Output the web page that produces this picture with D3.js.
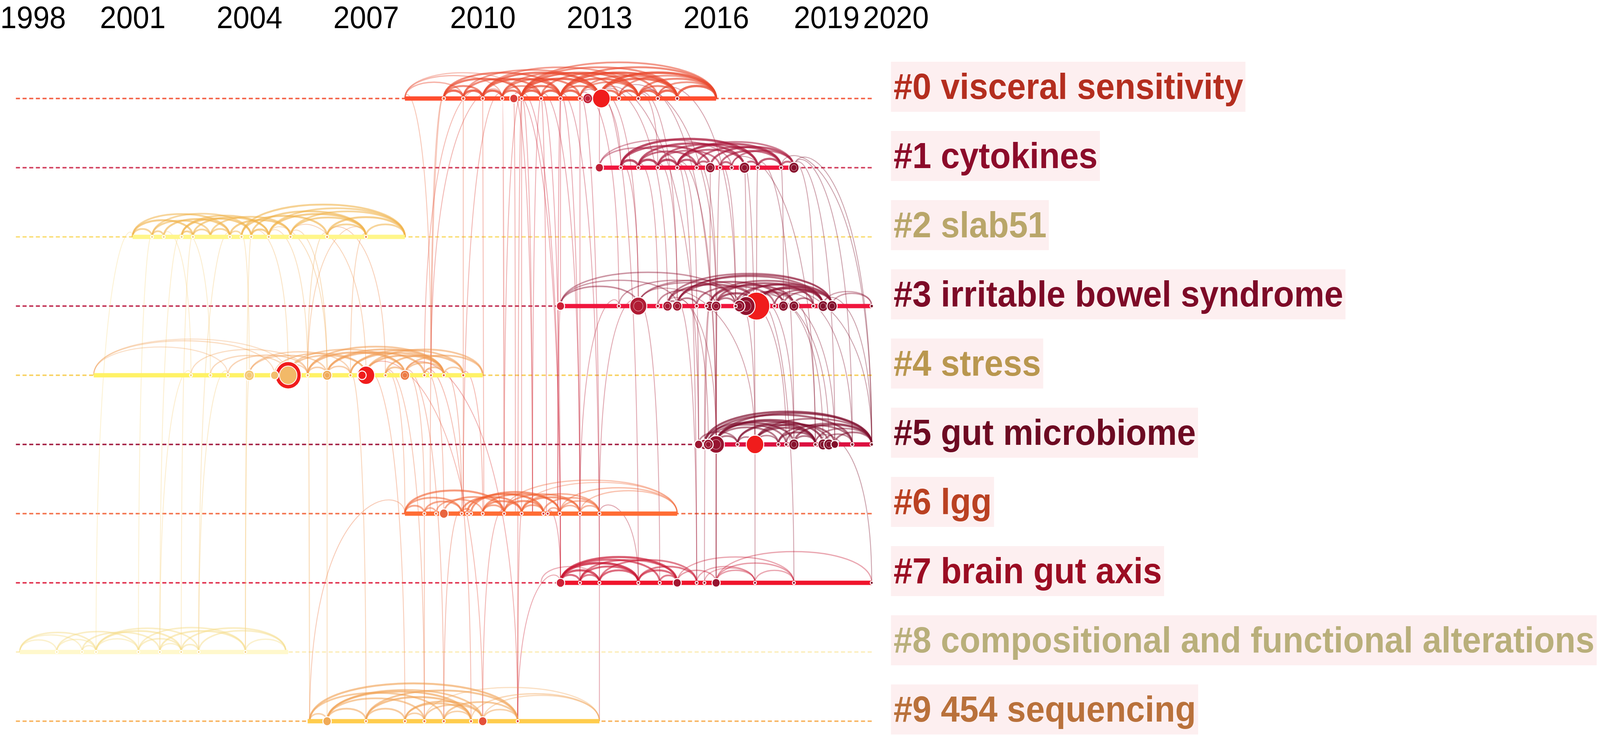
<!DOCTYPE html>
<html lang="en">
<head>
<meta charset="utf-8">
<script src="https://d3js.org/d3.v7.min.js"></script>
<title>Timeline view</title>
<style>
  html, body { margin: 0; padding: 0; background: #fff; overflow: hidden; }
  #chart svg { display: block; width: 100vw; height: 100vh; }
  text { font-family: "Liberation Sans", Arial, sans-serif; }
</style>
</head>
<body>
<div id="chart"></div>
<script>
// ---- data ----
const yearTicks = [1998, 2001, 2004, 2007, 2010, 2013, 2016, 2019, 2020];

const clusterIds = [0, 1, 2, 3, 4, 5, 6, 7, 8, 9];
const clusterNames = [
  "#0 visceral sensitivity", "#1 cytokines", "#2 slab51", "#3 irritable bowel syndrome",
  "#4 stress", "#5 gut microbiome", "#6 lgg", "#7 brain gut axis",
  "#8 compositional and functional alterations", "#9 454 sequencing"
];
// active period of each cluster
const clusterSpans = [
  [2008, 2016], [2013, 2018], [2001, 2008], [2012, 2020], [2000, 2010],
  [2015.5, 2020], [2008, 2015], [2012, 2020], [1998.1, 2005], [2005.5, 2013]
];

// [cluster, year, citations, burst]
const nodeData = [
  [0,2009,2,0],[0,2009.5,2,0],[0,2010,2,0],[0,2010.5,2,0],[0,2011,2,0],[0,2011.5,2,0],[0,2012,2,0],
  [0,2012.5,2,0],[0,2013.5,2,0],[0,2014,2,0],[0,2014.5,2,0],[0,2015,2,0],
  [0,2010.8,12,0],[0,2012.7,17,0],[0,2013.05,56,1],

  [1,2013.55,2,0],[1,2014,2,0],[1,2014.5,2,0],[1,2015,2,0],[1,2015.5,2,0],[1,2016.1,2,0],[1,2016.4,2,0],
  [1,2017.07,2,0],[1,2017.67,2,0],
  [1,2013,12,0],[1,2015.85,17,0],[1,2016.73,20,0],[1,2018,19,0],

  [2,2001.5,1.5,0],[2,2001.8,1.5,0],[2,2002.26,1.5,0],[2,2002.55,1.5,0],[2,2003.5,1.5,0],[2,2003.8,1.5,0],
  [2,2004.05,1.5,0],[2,2004.5,1.5,0],[2,2005.06,1.5,0],[2,2006,1.5,0],[2,2007,1.5,0],

  [3,2013.5,2,0],[3,2014.5,2,0],[3,2015.5,2,0],[3,2015.75,2,0],[3,2016.5,2,0],[3,2017.5,2,0],[3,2018.5,2,0],[3,2020,2,0],
  [3,2012,12,0],[3,2014,52,0],[3,2014.75,16,0],[3,2015,16,0],[3,2015.84,16,0],[3,2016,16,0],[3,2016.6,22,0],
  [3,2016.77,58,0],[3,2017.04,125,1],[3,2017.73,17,0],[3,2018,17,0],[3,2018.75,19,0],[3,2018.98,19,0],

  [4,2002.5,1.5,0],[4,2003,1.5,0],[4,2003.45,1.5,0],[4,2005.5,1.5,0],[4,2006.6,1.5,0],[4,2007.5,1.5,0],
  [4,2008.5,1.5,0],[4,2008.67,1.5,0],[4,2009,1.5,0],[4,2009.5,1.5,0],
  [4,2004,18,0],[4,2004.65,12,0],[4,2005,120,0.32],[4,2006,16,0],[4,2006.9,12,1],[4,2007,54,1],[4,2008,16,0],

  [5,2016.55,2,0],[5,2017.6,2,0],[5,2017.8,2,0],[5,2018.55,2,0],[5,2019.5,2,0],[5,2020,2,0],
  [5,2015.55,12,0],[5,2015.7,17,0],[5,2015.8,17,0],[5,2016,50,0],[5,2017,55,1],[5,2018,19,0],
  [5,2018.75,19,0],[5,2018.9,19,0],[5,2019.05,10,0],

  [6,2008.5,1.5,0],[6,2008.8,1.5,0],[6,2009.46,1.5,0],[6,2009.6,1.5,0],[6,2009.7,1.5,0],[6,2010,1.5,0],
  [6,2010.55,1.5,0],[6,2011,1.5,0],[6,2011.56,1.5,0],[6,2011.67,1.5,0],[6,2011.98,1.5,0],[6,2012.5,1.5,0],[6,2013,1.5,0],
  [6,2009,14,0],

  [7,2012.5,1.5,0],[7,2013,1.5,0],[7,2014,1.5,0],[7,2014.55,1.5,0],[7,2015.5,1.5,0],[7,2015.7,1.5,0],
  [7,2017,1.5,0],[7,2018,1.5,0],[7,2020,1.5,0],
  [7,2012,13,0],[7,2015,12,0],[7,2016,12,0],

  [8,1999.05,1.2,0],[8,1999.7,1.2,0],[8,2000.06,1.2,0],[8,2001.15,1.2,0],[8,2001.7,1.2,0],[8,2002.25,1.2,0],
  [8,2002.7,1.2,0],[8,2003.9,1.2,0],

  [9,2007,1.5,0],[9,2008,1.5,0],[9,2008.5,1.5,0],[9,2009,1.5,0],[9,2009.7,1.5,0],[9,2010.9,1.5,0],
  [9,2006,13,0],[9,2010,13,0]
];

// co-citation arcs inside a cluster: [cluster, fromYear, toYear, strength]
const arcData = [
  [0,2008,2009.5,.3],[0,2008,2010.5,.25],[0,2008,2011,.2],
  [0,2009,2009.5,.8],[0,2009.5,2010,.8],[0,2010,2010.5,.8],[0,2010.5,2011,.7],[0,2011,2011.5,.8],[0,2011.5,2012,.8],
  [0,2012,2012.5,.8],[0,2013,2013.5,.7],[0,2013.5,2014,.8],[0,2014,2014.5,.8],[0,2014.5,2015,.8],[0,2015,2016,.8],
  [0,2009,2010,.6],[0,2009,2011,.7],[0,2009,2012,.6],[0,2009.5,2011.5,.6],[0,2009.5,2013,.45],[0,2010,2012,.7],
  [0,2010,2013,.7],[0,2010,2014,.45],[0,2010.5,2012.5,.6],[0,2010.5,2013.5,.5],[0,2010.5,2011.5,.5],[0,2011,2012,.7],
  [0,2011,2013,.8],[0,2011,2014,.7],[0,2011,2015,.55],[0,2011,2016,.5],[0,2011.5,2014.5,.6],[0,2012,2013,.6],
  [0,2012,2014,.7],[0,2012,2015,.8],[0,2012,2016,.6],[0,2012.5,2014,.5],[0,2012.5,2015,.5],[0,2013,2015,.75],
  [0,2013,2016,.85],[0,2013.5,2016,.5],[0,2014,2015,.6],[0,2014,2016,.6],[0,2014.5,2016,.5],

  [1,2013,2016.4,.3],[1,2013,2015,.35],[1,2013.55,2017.07,.8],[1,2013.55,2015.85,.7],[1,2014,2016.73,.7],
  [1,2014,2015.5,.6],[1,2014.5,2017.07,.6],[1,2015,2017.67,.7],[1,2015,2018,.5],[1,2015.5,2017.67,.6],
  [1,2015.85,2018,.7],[1,2016.1,2017.67,.6],[1,2016.4,2018,.5],[1,2015,2016.73,.6],[1,2014.5,2016.1,.5],
  [1,2013.55,2014,.8],[1,2014,2014.5,.8],[1,2014.5,2015,.8],[1,2015,2015.5,.7],[1,2015.5,2015.85,.6],
  [1,2016.1,2016.4,.6],[1,2016.73,2017.07,.6],[1,2017.07,2017.67,.7],[1,2017.67,2018,.6],

  [2,2001,2002.55,.6],[2,2001,2003.5,.5],[2,2001.5,2003,.5],[2,2001.5,2004.05,.45],[2,2001.8,2003.5,.6],
  [2,2002.26,2004.05,.6],[2,2002.26,2004.5,.5],[2,2002.55,2004.5,.55],[2,2003,2005.06,.5],[2,2003.5,2005.06,.6],
  [2,2003.8,2006,.6],[2,2003.8,2008,.55],[2,2004.05,2007,.55],[2,2004.5,2007,.6],[2,2004.5,2008,.5],
  [2,2005.06,2007,.55],[2,2005.06,2008,.5],[2,2006,2008,.6],[2,2001,2001.5,.5],[2,2001.5,2001.8,.5],
  [2,2002.55,2003,.5],[2,2003,2003.5,.5],[2,2004.05,2004.5,.6],[2,2006,2007,.5],[2,2007,2008,.5],
  [2,2002.26,2002.55,.5],[2,2003.5,2003.8,.4],

  [3,2012,2014,.4],[3,2012,2016.5,.35],[3,2012,2015,.3],[3,2013.5,2016.5,.3],[3,2014,2016.6,.35],[3,2014,2017.04,.3],
  [3,2014.75,2017.04,.6],[3,2014.75,2018.98,.5],[3,2015,2017.73,.6],[3,2015,2018.75,.55],[3,2015,2018.98,.45],
  [3,2015.5,2017.5,.5],[3,2015.84,2018,.6],[3,2015.84,2018.75,.55],[3,2016,2018.5,.6],[3,2016,2017.04,.7],
  [3,2016.5,2018.75,.6],[3,2016.6,2018.98,.5],[3,2016.77,2018,.6],[3,2017.04,2018.75,.7],[3,2017.04,2018.98,.6],
  [3,2017.5,2018.98,.5],[3,2017.73,2018.98,.5],[3,2014.75,2015,.5],[3,2015,2015.5,.5],[3,2016,2016.5,.5],
  [3,2018,2018.5,.5],[3,2018.98,2020,.3],[3,2018.75,2020,.25],[3,2014.5,2016,.4],

  [4,2000,2004.65,.2],[4,2000,2005,.15],[4,2000,2003.45,.15],[4,2002.5,2005.5,.2],[4,2003,2005,.25],
  [4,2003.45,2005.5,.3],[4,2004,2006,.35],[4,2004,2006.6,.3],[4,2004.65,2007,.4],[4,2005,2007,.45],
  [4,2005,2008,.4],[4,2005.5,2008,.6],[4,2005.5,2009,.5],[4,2006,2008.5,.6],[4,2006,2009,.55],
  [4,2006.6,2009,.55],[4,2006.6,2009.5,.5],[4,2007,2009,.6],[4,2007,2010,.5],[4,2007.5,2009.5,.55],
  [4,2008,2010,.5],[4,2008,2009,.5],[4,2005.5,2006,.4],[4,2006,2006.6,.4],[4,2007.5,2008,.5],
  [4,2008.5,2009,.5],[4,2009,2009.5,.4],[4,2004.65,2005.5,.3],

  [5,2015.7,2020,.7],[5,2015.8,2019.5,.6],[5,2016,2020,.6],[5,2016,2018.75,.7],[5,2016,2018.55,.6],
  [5,2016,2017.6,.5],[5,2015.7,2018,.6],[5,2016.55,2018.9,.5],[5,2017,2019.05,.6],[5,2017,2020,.5],
  [5,2017,2018.55,.6],[5,2017.6,2019.5,.5],[5,2017.8,2020,.5],[5,2018,2020,.6],[5,2018.55,2020,.4],
  [5,2018.75,2019.5,.4],[5,2015.55,2016.55,.4],[5,2016,2016.55,.5],[5,2016.55,2017,.4],[5,2017,2017.6,.4],
  [5,2018,2018.55,.5],[5,2019.05,2020,.5],[5,2016.55,2018.55,.6],[5,2015.8,2017.8,.5],[5,2017.6,2018.55,.6],

  [6,2008,2010.55,.6],[6,2008,2009.46,.5],[6,2008.5,2009.46,.5],[6,2008.8,2010,.4],[6,2009,2010.55,.5],
  [6,2009.46,2011,.6],[6,2009.6,2011.56,.7],[6,2009.7,2011.98,.6],[6,2010,2011,.6],[6,2010,2011.98,.55],
  [6,2010.55,2011.56,.6],[6,2010.55,2012.5,.5],[6,2011,2012.5,.55],[6,2011,2013,.4],[6,2011.56,2013,.45],
  [6,2011.98,2013,.4],[6,2011.98,2015,.3],[6,2010.55,2015,.25],[6,2012.5,2015,.25],[6,2008,2008.5,.5],
  [6,2008.5,2008.8,.4],[6,2009.46,2009.7,.4],[6,2010,2010.55,.5],[6,2011,2011.56,.5],[6,2011.67,2011.98,.4],
  [6,2011.98,2012.5,.4],[6,2012.5,2013,.4],[6,2011,2015,.2],

  [7,2011.5,2013,.2],[7,2012,2014,.8],[7,2012,2015,.7],[7,2012,2014.55,.6],[7,2012,2013,.7],[7,2012.5,2014,.6],
  [7,2012.5,2015,.5],[7,2013,2014,.6],[7,2013,2015.5,.5],[7,2014,2015,.6],[7,2014,2015.5,.5],[7,2014.55,2015,.5],
  [7,2015,2016,.3],[7,2015,2018,.25],[7,2015.5,2017,.25],[7,2016,2017,.3],[7,2016,2018,.3],[7,2016,2020,.25],
  [7,2017,2018,.25],[7,2015.7,2017,.2],[7,2012,2012.5,.6],[7,2012.5,2013,.5],

  [8,1998.1,2000.06,.4],[8,1998.1,1999.7,.3],[8,1999.05,2001.15,.4],[8,1999.05,2000.06,.3],[8,1999.7,2001.7,.4],
  [8,2000.06,2002.25,.5],[8,2000.06,2002.7,.4],[8,2001.15,2003.9,.4],[8,2001.7,2003.9,.5],[8,2002.25,2004.94,.45],
  [8,2002.7,2004.94,.4],[8,2001.15,2002.25,.4],[8,2002.25,2002.7,.4],[8,2003.9,2004.94,.3],[8,1999.7,2000.06,.3],
  [8,2000.06,2001.15,.3],[8,2001.7,2002.25,.3],[8,1998.1,1999.05,.3],

  [9,2005.55,2010.9,.6],[9,2005.55,2009,.5],[9,2006,2009.7,.6],[9,2006,2008.5,.5],[9,2006,2010,.5],
  [9,2007,2009.7,.6],[9,2007,2010.9,.55],[9,2008,2010,.5],[9,2008,2009.7,.5],[9,2008.5,2010,.45],
  [9,2009,2010.9,.5],[9,2009.7,2013,.3],[9,2010,2013,.25],[9,2008.5,2013,.2],[9,2005.55,2006,.4],
  [9,2006,2007,.5],[9,2007,2008,.5],[9,2008,2008.5,.4],[9,2009,2009.7,.4],[9,2010,2010.9,.4]
];

// links between clusters: [clusterA, yearA, clusterB, yearB]
const linkData = [
  [0,2010.5,6,2010.55],[0,2010.8,6,2010.84],[0,2011,6,2011],[0,2011,6,2011.28],[0,2011.5,6,2011.64],
  [0,2010,6,2010.03],[0,2011.5,6,2011.28],[0,2012,6,2011.93],[0,2009.5,6,2009.5],[0,2010.5,6,2009.5],
  [0,2009,6,2008.65],[0,2011,6,2010.55],[0,2012.5,6,2012.5],[0,2011.5,6,2012.5],[0,2010.8,6,2011.28],
  [0,2011.5,7,2012],[0,2012,7,2012.5],[0,2012.5,7,2013],[0,2011,7,2012],[0,2013,7,2014],[0,2012,7,2013],[0,2010.8,7,2012],
  [4,2008.67,0,2008],[4,2008.67,0,2009],[4,2008.5,0,2010],[4,2008.67,0,2010.5],
  [0,2013,3,2014],[0,2012.5,3,2013.5],[0,2013.5,3,2016],[0,2014,3,2015],[0,2012,3,2012],[0,2013,3,2014.75],[0,2014.5,3,2016.5],
  [0,2013,1,2013],[0,2014,1,2014.5],[0,2012.5,1,2013.55],
  [0,2013,5,2015.55],[0,2014,5,2016],[9,2010.9,0,2011],
  [1,2014,3,2014.5],[1,2015,3,2015.5],[1,2015.85,3,2015.84],[1,2016.1,3,2016.5],[1,2016.73,3,2016.77],
  [1,2017.07,3,2017.04],[1,2017.67,3,2017.73],[1,2013.55,3,2014],[1,2015.5,3,2016],[1,2018,3,2018.5],[1,2014.5,3,2015],
  [1,2016.73,5,2017],[1,2017.07,5,2018],[1,2018,5,2019.5],[1,2018,5,2020],[1,2017.67,5,2020],[1,2015,5,2016],
  [1,2016.4,5,2018.55],[1,2018,5,2019.05],
  [1,2015,7,2015.5],[1,2016.1,7,2016],
  [3,2016,5,2016],[3,2016.6,5,2017],[3,2017.04,5,2018.75],[3,2017.04,5,2019.05],[3,2017.04,5,2020],
  [3,2016.77,5,2018.9],[3,2017.5,5,2019.5],[3,2015.5,5,2015.55],[3,2015.84,5,2015.7],[3,2018,5,2018.55],
  [3,2014.75,5,2016],[3,2016.5,5,2017.8],[3,2017.04,5,2018],[3,2018.75,5,2020],[3,2015,5,2015.8],[3,2014,5,2017],
  [3,2015,7,2015.5],[3,2016,7,2016],[3,2014,7,2014.55],[3,2017.04,7,2018],[3,2015.84,7,2015.7],
  [5,2017,7,2017],[5,2016,7,2016],[5,2018.55,7,2020],
  [6,2012.5,3,2013.5],[6,2011.93,3,2012],[6,2013,3,2014],
  [2,2004.05,4,2005],[2,2004.5,4,2005.5],[2,2005.06,4,2006],[2,2006,4,2005.5],[2,2007,4,2006.6],[2,2007,4,2005.5],
  [2,2004.5,4,2006],[2,2003.8,4,2004],[2,2005.06,4,2007],[2,2006,4,2007.5],[2,2002.26,4,2003],[2,2001.8,4,2002.5],
  [8,2001.15,2,2001.5],[8,2001.7,2,2002.26],[8,2002.25,2,2002.55],[8,2000.06,2,2001],[8,2002.7,2,2003.5],[8,2003.9,2,2004.05],
  [8,2001.7,4,2002.5],[8,2002.7,4,2003.45],[8,2003.9,4,2004],
  [4,2006,9,2006],[4,2006.6,9,2007],[4,2007,9,2008],[4,2007.5,9,2008.5],[4,2008,9,2009],[4,2008.5,9,2009.7],
  [4,2005.5,9,2005.55],[4,2007,9,2010],[4,2008,9,2010.9],
  [4,2007.5,6,2008],[4,2008,6,2008.5],[4,2009,6,2009.46],[4,2008.5,6,2009],[4,2009.5,6,2010],
  [9,2005.55,6,2008],[9,2008.5,6,2008.5],[9,2009,6,2009.46],[9,2010,6,2010.55],[9,2010.9,6,2011],
  [9,2010.9,7,2012],[9,2013,7,2013],
  [6,2011.67,7,2012],[6,2012.5,7,2012.5],[6,2013,7,2014]
];

// ---- styles ----
const labelColors = ["#b42e1f","#8c0b2a","#b9a66a","#7d0a27","#b9974f","#6d0a22","#ba4122","#9b0d23","#b9af7b","#b9713b"];
const spanColors  = ["#ff4d2e","#f0163e","#fff68a","#f0163e","#fff266","#dc1040","#ff6c34","#f0142c","#fff8cc","#ffcc4c"];
const dashColors  = ["#f46a50","#d44a66","#fae080","#c43a5c","#f8d468","#a82a4c","#f47a56","#e23a56","#fcefc0","#f8b868"];
const arcColors   = ["#e8452a","#a8163a","#f0b248","#8e1434","#f09a50","#7e0c2c","#f0602e","#c81430","#f5dc88","#f0a050"];

const width = 4328, height = 1888;

const x = d3.scaleLinear().domain([1998, 2020]).range([43, 2358]);
const y = d3.scalePoint().domain(clusterIds).range([252, 1845]);
const r = d3.scaleSqrt().domain([0, 120]).range([0, 35]);
const yearColor = d3.scaleLinear()
  .domain([1998, 2001, 2004, 2006, 2008, 2010, 2012, 2014, 2016, 2020])
  .range(["#fdf0b8","#f8dc90","#f4c878","#f0aa58","#ec7a44","#e4503a","#cc2238","#b01c34","#961430","#7a0c28"]);
const arcOpacity = d3.scaleLinear().domain([0, 1]).range([0.2, 0.9]);
const arcWidth = d3.scaleLinear().domain([0, 1]).range([2, 7]);

// arc height grows with time distance
const arcHeight = dy => 32 * Math.pow(Math.abs(dy), 0.66);

const svg = d3.select("#chart").append("svg")
  .attr("viewBox", `0 0 ${width} ${height}`)
  .attr("preserveAspectRatio", "none");

// dashed full timeline for every cluster
svg.append("g").selectAll("line")
  .data(clusterIds)
  .join("line")
    .attr("x1", x(1998)).attr("x2", x(2020))
    .attr("y1", d => y(d)).attr("y2", d => y(d))
    .attr("stroke", d => dashColors[d])
    .attr("stroke-width", 4)
    .attr("stroke-dasharray", "11,7");

// links between clusters
svg.append("g").attr("fill", "none").selectAll("path")
  .data(linkData)
  .join("path")
    .attr("d", d => {
      const x1 = x(d[1]), y1 = y(d[0]), x2 = x(d[3]), y2 = y(d[2]);
      const c = Math.min(y1, y2) - 4 / 3 * arcHeight(d[3] - d[1]);
      return `M${x1},${y1}C${x1},${c} ${x2},${c} ${x2},${y2}`;
    })
    .attr("stroke", d => yearColor(Math.max(d[1], d[3])))
    .attr("stroke-opacity", 0.38)
    .attr("stroke-width", 2.4);

// arcs inside clusters
svg.append("g").attr("fill", "none").selectAll("path")
  .data(arcData)
  .join("path")
    .attr("d", d => {
      const x1 = x(d[1]), x2 = x(d[2]), yy = y(d[0]);
      const c = yy - 4 / 3 * arcHeight(d[2] - d[1]);
      return `M${x1},${yy}C${x1},${c} ${x2},${c} ${x2},${yy}`;
    })
    .attr("stroke", d => arcColors[d[0]])
    .attr("stroke-opacity", d => arcOpacity(d[3]))
    .attr("stroke-width", d => arcWidth(d[3]));

// active span
svg.append("g").selectAll("line")
  .data(clusterIds)
  .join("line")
    .attr("x1", d => x(clusterSpans[d][0])).attr("x2", d => x(clusterSpans[d][1]))
    .attr("y1", d => y(d)).attr("y2", d => y(d))
    .attr("stroke", d => spanColors[d])
    .attr("stroke-width", 11);

// nodes, biggest first
const nodes = nodeData.slice().sort((a, b) => b[2] - a[2]);
const ng = svg.append("g").selectAll("g")
  .data(nodes)
  .join("g")
    .attr("transform", d => `translate(${x(d[1])},${y(d[0])})`);

ng.append("circle")
  .attr("r", d => r(d[2]))
  .attr("fill", d => d[3] > 0 ? "#f01c1c" : yearColor(d[1]))
  .attr("stroke", "#fff")
  .attr("stroke-width", 2.5);

ng.filter(d => d[3] > 0 && d[3] < 1).append("circle")
  .attr("r", d => r(d[2]) * (1 - d[3]))
  .attr("fill", d => yearColor(d[1]))
  .attr("stroke", "#fff")
  .attr("stroke-width", 2);

ng.filter(d => d[3] === 0 && r(d[2]) > 12).append("circle")
  .attr("r", d => r(d[2]) * 0.55)
  .attr("fill", "none")
  .attr("stroke", "#fff")
  .attr("stroke-opacity", 0.5)
  .attr("stroke-width", 1.5);

// cluster labels
const lg = svg.append("g").selectAll("g")
  .data(clusterIds)
  .join("g")
    .attr("transform", d => `translate(2417,${y(d) + 1})`);

lg.append("rect")
  .attr("x", -7)
  .attr("y", -95)
  .attr("height", 128)
  .attr("fill", "#fdeff0");

lg.append("text")
  .attr("font-size", 92)
  .attr("font-weight", "bold")
  .attr("fill", d => labelColors[d])
  .text(d => clusterNames[d]);

lg.each(function() {
  const g = d3.select(this);
  const w = g.select("text").node().getComputedTextLength();
  g.select("rect").attr("width", w + 13);
});

// year axis on top
const axis = svg.append("g")
  .attr("transform", "translate(0,72)")
  .call(d3.axisTop(x).tickValues(yearTicks).tickFormat(d3.format("d")).tickSize(0).tickPadding(0))
  .attr("font-family", null)
  .attr("font-size", 80);

axis.select(".domain").remove();
axis.selectAll("text").attr("fill", "#000");
axis.selectAll(".tick").filter(d => d === yearTicks[0]).select("text")
  .attr("text-anchor", "start").attr("x", -x(yearTicks[0]));
axis.selectAll(".tick").filter(d => d === 2019).select("text").attr("dx", -17);
axis.selectAll(".tick").filter(d => d === 2020).select("text")
  .attr("text-anchor", "start").attr("x", -24);
</script>
</body>
</html>
